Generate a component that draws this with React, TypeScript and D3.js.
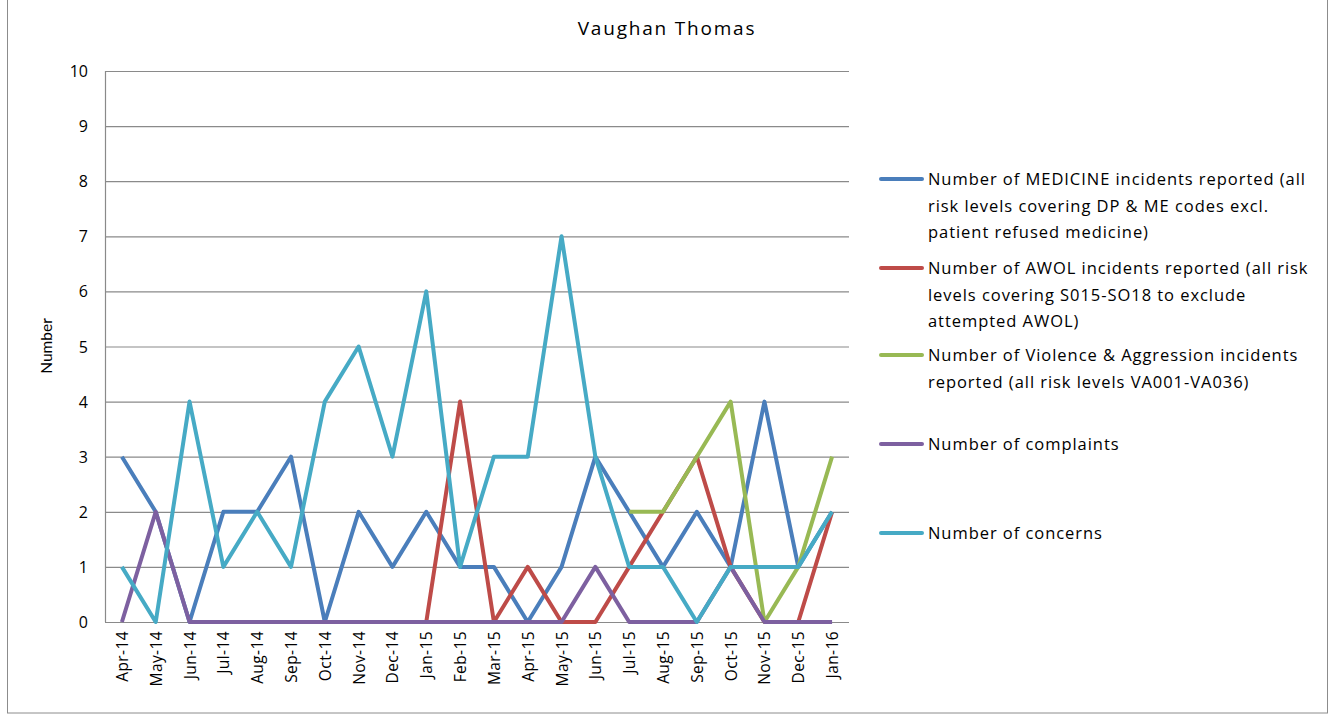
import React from "react";
import * as d3 from "d3";

const months = ["Apr-14","May-14","Jun-14","Jul-14","Aug-14","Sep-14","Oct-14","Nov-14","Dec-14","Jan-15","Feb-15","Mar-15","Apr-15","May-15","Jun-15","Jul-15","Aug-15","Sep-15","Oct-15","Nov-15","Dec-15","Jan-16"];
const medicine = [3,2,0,2,2,3,0,2,1,2,1,1,0,1,3,2,1,2,1,4,1,2];
const awol: (number|null)[] = [null,null,null,null,null,null,null,null,null,0,4,0,1,0,0,1,2,3,1,0,0,2];
const violence: (number|null)[] = [null,null,null,null,null,null,null,null,null,null,null,null,null,null,null,2,2,3,4,0,1,3];
const complaints = [0,2,0,0,0,0,0,0,0,0,0,0,0,0,1,0,0,0,1,0,0,0];
const concerns = [1,0,4,1,2,1,4,5,3,6,1,3,3,7,3,1,1,0,1,1,1,2];
const yTicks = [0,1,2,3,4,5,6,7,8,9,10];

const seriesNames = [
  ["Number of MEDICINE incidents reported (all", "risk levels covering DP & ME codes excl.", "patient refused medicine)"],
  ["Number of AWOL incidents reported (all risk", "levels covering S015-SO18 to exclude", "attempted AWOL)"],
  ["Number of Violence & Aggression incidents", "reported (all risk levels VA001-VA036)"],
  ["Number of complaints"],
  ["Number of concerns"],
];
const colors = ["#4A7EBB", "#BE4B48", "#98B954", "#7D60A0", "#46AAC5"];
const seriesData = [medicine, awol, violence, complaints, concerns];
const legendY = [179, 268, 355, 444, 533];

export default function App() {
  const W = 1334, H = 720;
  const left = 105, right = 849, top = 71, bottom = 622;
  const x = d3.scaleBand<string>().domain(months).range([left, right]);
  const y = d3.scaleLinear().domain([0, 10]).range([bottom, top]);
  const font = "Lato, 'Open Sans', sans-serif";
  const font2 = "'Open Sans', Lato, sans-serif";
  const line = d3.line<number | null>()
    .defined((d) => d !== null)
    .x((_, i) => (x(months[i]) as number) + x.bandwidth() / 2)
    .y((d) => y(d as number));

  return (
    <svg width={W} height={H} style={{ position: "absolute", left: 0, top: 0 }}>
      <rect x={0} y={0} width={W} height={H} fill="#fff" />
      <rect x={7.5} y={-1} width={1320} height={714} fill="none" stroke="#8c8c8c" strokeWidth={1} />
      <text x={667} y={35} textAnchor="middle" fontFamily={font2} fontSize={19} letterSpacing={1.8} fill="#000">Vaughan Thomas</text>
      {yTicks.map((t) => (
        <g key={t}>
          <line x1={left} x2={right} y1={y(t) + 0.5} y2={y(t) + 0.5} stroke="#8a8a8a" strokeWidth={1.2} />
          <text x={88} y={y(t) + 6} textAnchor="end" fontFamily={font2} fontSize={16} fill="#000">{t}</text>
        </g>
      ))}
      <line x1={left + 0.5} x2={left + 0.5} y1={top} y2={bottom} stroke="#8a8a8a" strokeWidth={1.2} />
      <text transform={`translate(52,346) rotate(-90)`} textAnchor="middle" fontFamily={font} fontSize={15.5} fill="#000">Number</text>
      {months.map((m) => (
        <text key={m} transform={`translate(${(x(m) as number) + x.bandwidth() / 2 + 6},631) rotate(-90)`} textAnchor="end" fontFamily={font2} fontSize={15.5} letterSpacing={0.4} fill="#000">{m}</text>
      ))}
      {seriesData.map((s, i) => (
        <path key={i} d={line(s as (number | null)[]) || ""} fill="none" stroke={colors[i]} strokeWidth={4} strokeLinejoin="round" />
      ))}
      {seriesNames.map((lines, i) => (
        <g key={i}>
          <line x1={881} x2={922} y1={legendY[i]} y2={legendY[i]} stroke={colors[i]} strokeWidth={4} strokeLinecap="round" />
          {lines.map((l, j) => (
            <text key={j} x={928} y={legendY[i] + 6 + j * 26.5} fontFamily={font2} fontSize={16.5} letterSpacing={0.95} fill="#000">{l}</text>
          ))}
        </g>
      ))}
    </svg>
  );
}
